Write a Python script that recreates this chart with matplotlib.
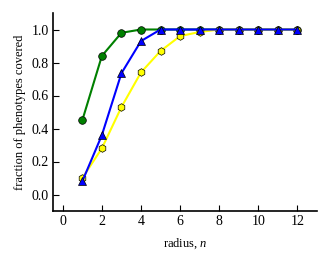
import matplotlib
matplotlib.use("Agg")
import matplotlib.pyplot as plt

radius = [1, 2, 3, 4, 5, 6, 7, 8, 9, 10, 11, 12]
green_vals = [0.45, 0.84, 0.98, 1.0, 1.0, 1.0, 1.0, 1.0, 1.0, 1.0, 1.0, 1.0]
yellow_vals = [0.10, 0.28, 0.53, 0.74, 0.87, 0.96, 0.985, 1.0, 1.0, 1.0, 1.0, 1.0]
blue_vals = [0.08, 0.36, 0.735, 0.93, 1.0, 1.0, 1.0, 1.0, 1.0, 1.0, 1.0, 1.0]
xticks = [0, 2, 4, 6, 8, 10, 12]
yticks = [0.0, 0.2, 0.4, 0.6, 0.8, 1.0]

plt.rcParams['font.family'] = ['Liberation Serif', 'DejaVu Serif']
plt.rcParams['mathtext.fontset'] = 'custom'
plt.rcParams['mathtext.it'] = 'Liberation Serif:italic'
plt.rcParams['mathtext.rm'] = 'Liberation Serif'

fig = plt.figure(figsize=(3.3, 2.6), dpi=100)
ax = fig.add_axes([53/330, 1 - 211/260, (317-53)/330, (211-13)/260])

ax.plot(radius, green_vals, color='green', marker='o', markersize=5.5,
        markeredgecolor='black', markeredgewidth=0.5, linewidth=1.5)
ax.plot(radius, yellow_vals, color='yellow', marker='h', markersize=5.5,
        markeredgecolor='black', markeredgewidth=0.5, linewidth=1.5)
ax.plot(radius, blue_vals, color='blue', marker='^', markersize=5.5,
        markeredgecolor='black', markeredgewidth=0.5, linewidth=1.5)

ax.set_xlim(-0.5, 13)
ax.set_ylim(-0.1, 1.1)
ax.set_xticks(xticks)
ax.set_yticks(yticks)
ax.set_xticklabels([str(t) for t in xticks])
ax.set_yticklabels([f"{t:.1f}" for t in yticks])
ax.spines['top'].set_visible(False)
ax.spines['right'].set_visible(False)
ax.spines['left'].set_linewidth(1.2)
ax.spines['bottom'].set_linewidth(1.2)
ax.tick_params(direction='in', length=4, width=0.8, labelsize=10, pad=3,
               top=False, right=False)
ax.set_xlabel('radius, $n$', fontsize=9, labelpad=6)
ax.set_ylabel('fraction of phenotypes covered', fontsize=9, labelpad=4)

fig.savefig('out.png', dpi=100)
